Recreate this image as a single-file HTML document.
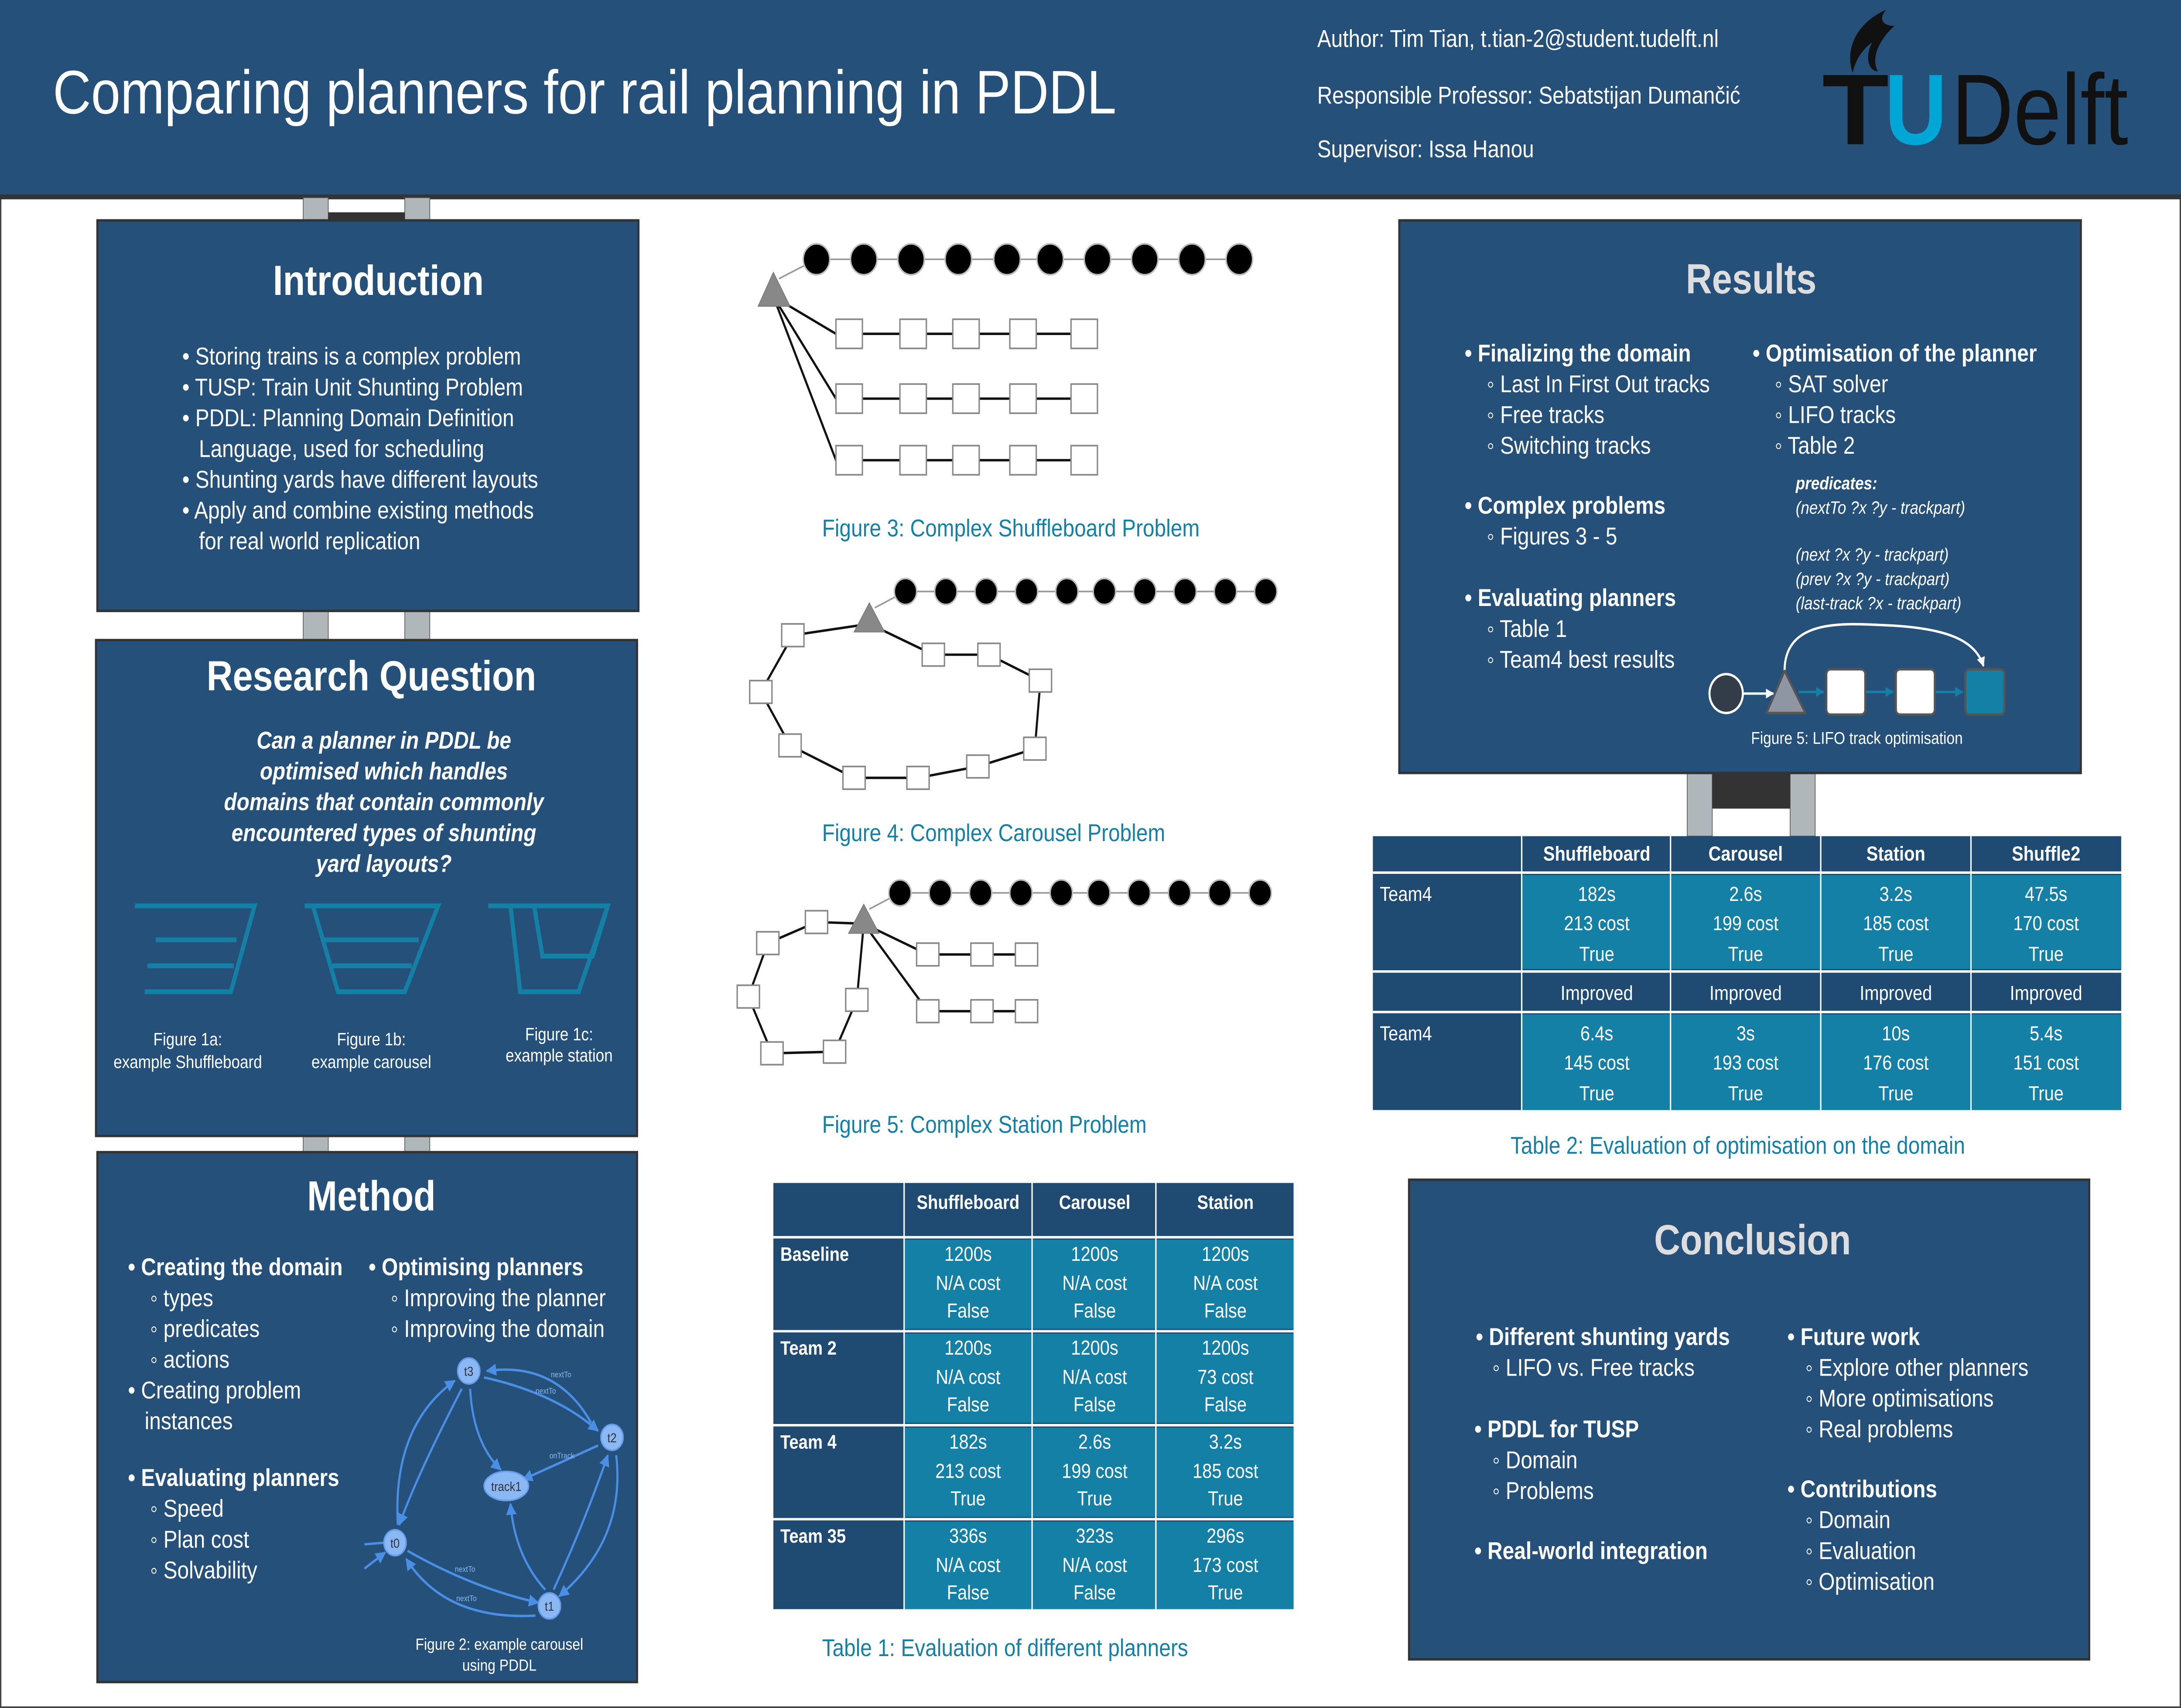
<!DOCTYPE html>
<html><head><meta charset="utf-8"><style>
html,body{margin:0;padding:0;background:#fff;width:100%;height:100%;overflow:hidden;}
svg{display:block;position:fixed;left:0;top:0;width:100vw;height:100vh;}
text{font-family:"Liberation Sans",sans-serif;}
</style></head><body>
<svg viewBox="0 0 1568 1054" preserveAspectRatio="none" xmlns="http://www.w3.org/2000/svg">
<defs>
<marker id="ab" viewBox="0 0 10 10" refX="9" refY="5" markerWidth="5" markerHeight="5" orient="auto"><path d="M0,0L10,5L0,10z" fill="#4a8fe6"/></marker>
<marker id="aw" viewBox="0 0 10 10" refX="9" refY="5" markerWidth="4" markerHeight="5" orient="auto"><path d="M0,0L10,5L0,10z" fill="#fff"/></marker>
<marker id="at" viewBox="0 0 10 10" refX="9" refY="5" markerWidth="4" markerHeight="4" orient="auto"><path d="M0,0L10,5L0,10z" fill="#1580a5"/></marker>
</defs>
<rect x="0.5" y="0.5" width="1567" height="1053" fill="#fff" stroke="#444" stroke-width="1"/>
<!-- header -->
<rect x="0" y="0" width="1568" height="122" fill="#245079"/>
<rect x="0" y="120" width="1568" height="3" fill="#333"/>
<text x="38" y="70" font-size="38" fill="#fff">Comparing planners for rail planning in PDDL</text>
<text x="947" y="29" font-size="15" fill="#fff">Author: Tim Tian, t.tian-2@student.tudelft.nl</text>
<text x="947" y="64" font-size="15" fill="#fff">Responsible Professor: Sebatstijan Dumančić</text>
<text x="947" y="97" font-size="15" fill="#fff">Supervisor: Issa Hanou</text>
<path d="M1356,6 C1335,14 1326,30 1332,45 C1334,36 1340,30 1346,26 C1340,36 1344,44 1350,44 C1344,34 1354,22 1362,16 C1354,16 1350,12 1356,6z" fill="#111"/>
<text x="1310" y="89" font-size="62" font-weight="bold" fill="#111" textLength="48" lengthAdjust="spacingAndGlyphs">T</text>
<text x="1355" y="89" font-size="62" font-weight="bold" fill="#00a6d6">U</text>
<text x="1403" y="89" font-size="62" fill="#111" textLength="127" lengthAdjust="spacingAndGlyphs">Delft</text>

<!-- connectors -->
<g fill="#b0b7bb" stroke="#555" stroke-width="0.5">
<rect x="218" y="122" width="18" height="14"/><rect x="291" y="122" width="18" height="14"/>
<rect x="218" y="377" width="18" height="18"/><rect x="291" y="377" width="18" height="18"/>
<rect x="218" y="701" width="18" height="10"/><rect x="291" y="701" width="18" height="10"/>
<rect x="1213" y="477" width="18" height="39"/><rect x="1287" y="477" width="18" height="39"/>
</g>
<rect x="236" y="131" width="55" height="5" fill="#333"/>
<rect x="1231" y="477" width="56" height="22" fill="#333"/>

<!-- Introduction -->
<rect x="70" y="136" width="389" height="241" fill="#245079" stroke="#333" stroke-width="1.5"/>
<text x="272" y="182" font-size="26" font-weight="bold" fill="#fff" text-anchor="middle">Introduction</text>
<g font-size="15" fill="#fff">
<text x="131" y="225">• Storing trains is a complex problem</text>
<text x="131" y="244">• TUSP: Train Unit Shunting Problem</text>
<text x="131" y="263">• PDDL: Planning Domain Definition</text>
<text x="143" y="282">Language, used for scheduling</text>
<text x="131" y="301">• Shunting yards have different layouts</text>
<text x="131" y="320">• Apply and combine existing methods</text>
<text x="143" y="339">for real world replication</text>
</g>

<!-- Research question -->
<rect x="69" y="395" width="389" height="306" fill="#245079" stroke="#333" stroke-width="1.5"/>
<text x="267" y="426" font-size="26" font-weight="bold" fill="#fff" text-anchor="middle">Research Question</text>
<g font-size="15" font-weight="bold" font-style="italic" fill="#fff" text-anchor="middle">
<text x="276" y="462">Can a planner in PDDL be</text>
<text x="276" y="481">optimised which handles</text>
<text x="276" y="500">domains that contain commonly</text>
<text x="276" y="519">encountered types of shunting</text>
<text x="276" y="538">yard layouts?</text>
</g>
<g stroke="#1580a5" stroke-width="3" fill="none">
<path d="M97,559H183L166,612H104M112,580H170M106,596H168"/>
<path d="M219,559H315L291,612H243L225,559M233,580H301M239,596H296"/>
<path d="M351,559H437L416,612H374L367,559M437,559L426,590H390L384,559"/>
</g>
<g font-size="11" fill="#fff" text-anchor="middle">
<text x="135" y="645">Figure 1a:</text><text x="135" y="659">example Shuffleboard</text>
<text x="267" y="645">Figure 1b:</text><text x="267" y="659">example carousel</text>
<text x="402" y="642">Figure 1c:</text><text x="402" y="655">example station</text>
</g>

<!-- Method -->
<rect x="70" y="711" width="388" height="327" fill="#245079" stroke="#333" stroke-width="1.5"/>
<text x="267" y="747" font-size="26" font-weight="bold" fill="#fff" text-anchor="middle">Method</text>
<g font-size="15" fill="#fff">
<text x="92" y="787" font-weight="bold">• Creating the domain</text>
<text x="108" y="806">◦ types</text>
<text x="108" y="825">◦ predicates</text>
<text x="108" y="844">◦ actions</text>
<text x="92" y="863">• Creating problem</text>
<text x="104" y="882">instances</text>
<text x="92" y="917" font-weight="bold">• Evaluating planners</text>
<text x="108" y="936">◦ Speed</text>
<text x="108" y="955">◦ Plan cost</text>
<text x="108" y="974">◦ Solvability</text>
<text x="265" y="787" font-weight="bold">• Optimising planners</text>
<text x="281" y="806">◦ Improving the planner</text>
<text x="281" y="825">◦ Improving the domain</text>
</g>
<g stroke="#4a8fe6" stroke-width="1.5" fill="none" marker-end="url(#ab)">
<path d="M425,878 Q400,840 350,846"/>
<path d="M348,850 Q400,860 430,883"/>
<path d="M338,857 Q340,890 360,907"/>
<path d="M430,892 L376,913"/>
<path d="M286,941 Q282,880 327,852"/>
<path d="M332,857 Q300,910 287,941"/>
<path d="M293,957 Q340,980 387,989"/>
<path d="M385,997 Q320,1000 292,962"/>
<path d="M392,981 Q370,960 367,928"/>
<path d="M398,981 Q420,940 437,898"/>
<path d="M443,898 Q450,950 402,985"/>
<path d="M262,968 L277,958"/>
</g>
<path d="M262,953 L276,952" stroke="#4a8fe6" stroke-width="1.5"/>
<g fill="#8ab8f5" stroke="#6a9be8" stroke-width="1">
<circle cx="337" cy="846" r="8"/><circle cx="440" cy="887" r="8"/><circle cx="284" cy="952" r="8"/><circle cx="395" cy="991" r="8"/>
<ellipse cx="364" cy="917" rx="16" ry="9"/>
</g>
<g font-size="8" fill="#333" text-anchor="middle">
<text x="337" y="849">t3</text><text x="440" y="890">t2</text><text x="284" y="955">t0</text><text x="395" y="994">t1</text><text x="364" y="920">track1</text>
</g>
<g font-size="5" fill="#8ab8f5">
<text x="385" y="860">nextTo</text><text x="396" y="850">nextTo</text><text x="327" y="970">nextTo</text><text x="328" y="988">nextTo</text><text x="395" y="900">onTrack</text>
</g>
<g font-size="10" fill="#fff" text-anchor="middle">
<text x="359" y="1018">Figure 2: example carousel</text><text x="359" y="1031">using PDDL</text>
</g>

<!-- Figures 3-5 -->
<g stroke="#999" stroke-width="1" fill="none">
<path d="M560,172 L587,160 H891"/>
<path d="M629,375 L651,365 H910"/>
<path d="M625,561 L647,551 H906"/>
</g>
<g fill="#000" stroke="#bbb" stroke-width="1">
<circle cx="587" cy="160" r="9.5"/><circle cx="621" cy="160" r="9.5"/><circle cx="655" cy="160" r="9.5"/><circle cx="689" cy="160" r="9.5"/><circle cx="724" cy="160" r="9.5"/><circle cx="755" cy="160" r="9.5"/><circle cx="789" cy="160" r="9.5"/><circle cx="823" cy="160" r="9.5"/><circle cx="857" cy="160" r="9.5"/><circle cx="891" cy="160" r="9.5"/>
<circle cx="651" cy="365" r="8"/><circle cx="680" cy="365" r="8"/><circle cx="709" cy="365" r="8"/><circle cx="738" cy="365" r="8"/><circle cx="767" cy="365" r="8"/><circle cx="794" cy="365" r="8"/><circle cx="823" cy="365" r="8"/><circle cx="852" cy="365" r="8"/><circle cx="881" cy="365" r="8"/><circle cx="910" cy="365" r="8"/>
<circle cx="647" cy="551" r="8"/><circle cx="676" cy="551" r="8"/><circle cx="705" cy="551" r="8"/><circle cx="734" cy="551" r="8"/><circle cx="763" cy="551" r="8"/><circle cx="790" cy="551" r="8"/><circle cx="819" cy="551" r="8"/><circle cx="848" cy="551" r="8"/><circle cx="877" cy="551" r="8"/><circle cx="906" cy="551" r="8"/>
</g>
<g stroke="#111" stroke-width="1.5" fill="none">
<path d="M556,183 L601,206 H779 M556,183 L601,246 H779 M556,183 L601,284 H779"/>
<path d="M625,385 L570,392 L547,427 L568,460 L614,480 L660,480 L703,473 L744,462 L748,420 L711,404 H671 L625,385"/>
<path d="M621,570 L587,569 L552,582 L538,615 L555,650 L600,649 L616,617 L621,570 M621,570 L667,589 H738 M621,570 L667,624 H738"/>
</g>
<g fill="#fff" stroke="#888" stroke-width="1">
<rect x="601" y="197" width="19" height="18"/><rect x="647" y="197" width="19" height="18"/><rect x="685" y="197" width="19" height="18"/><rect x="726" y="197" width="19" height="18"/><rect x="770" y="197" width="19" height="18"/>
<rect x="601" y="237" width="19" height="18"/><rect x="647" y="237" width="19" height="18"/><rect x="685" y="237" width="19" height="18"/><rect x="726" y="237" width="19" height="18"/><rect x="770" y="237" width="19" height="18"/>
<rect x="601" y="275" width="19" height="18"/><rect x="647" y="275" width="19" height="18"/><rect x="685" y="275" width="19" height="18"/><rect x="726" y="275" width="19" height="18"/><rect x="770" y="275" width="19" height="18"/>
<g transform="translate(-8,-7)">
<rect x="570" y="392" width="16" height="14"/><rect x="547" y="427" width="16" height="14"/><rect x="568" y="460" width="16" height="14"/><rect x="614" y="480" width="16" height="14"/><rect x="660" y="480" width="16" height="14"/><rect x="703" y="473" width="16" height="14"/><rect x="744" y="462" width="16" height="14"/><rect x="748" y="420" width="16" height="14"/><rect x="711" y="404" width="16" height="14"/><rect x="671" y="404" width="16" height="14"/>
<rect x="587" y="569" width="16" height="14"/><rect x="552" y="582" width="16" height="14"/><rect x="538" y="615" width="16" height="14"/><rect x="555" y="650" width="16" height="14"/><rect x="600" y="649" width="16" height="14"/><rect x="616" y="617" width="16" height="14"/>
<rect x="667" y="589" width="16" height="14"/><rect x="706" y="589" width="16" height="14"/><rect x="738" y="589" width="16" height="14"/>
<rect x="667" y="624" width="16" height="14"/><rect x="706" y="624" width="16" height="14"/><rect x="738" y="624" width="16" height="14"/>
</g>
</g>
<g fill="#888" stroke="#777" stroke-width="0.5">
<path d="M556,168 L545,189 L568,189z"/>
<path d="M625,372 L614,390 L636,390z"/>
<path d="M621,558 L610,576 L632,576z"/>
</g>
<g font-size="15" fill="#1580a5">
<text x="591" y="331">Figure 3: Complex Shuffleboard Problem</text>
<text x="591" y="519">Figure 4: Complex Carousel Problem</text>
<text x="591" y="699">Figure 5: Complex Station Problem</text>
<text x="591" y="1022">Table 1: Evaluation of different planners</text>
<text x="1086" y="712">Table 2: Evaluation of optimisation on the domain</text>
</g>

<!-- Table 1 -->
<rect x="556" y="730" width="374" height="263" fill="#1f4b73"/>
<g fill="#1580a5">
<rect x="650" y="765" width="280" height="55"/><rect x="650" y="823" width="280" height="55"/><rect x="650" y="881" width="280" height="55"/><rect x="650" y="939" width="280" height="54"/>
</g>
<g stroke="#fff" stroke-width="1.5">
<path d="M556,763.5H930M556,821.5H930M556,879.5H930M556,937.5H930"/>
<path d="M650,730V993M742,730V993M831,730V993" stroke-width="1"/>
</g>
<g font-size="12" fill="#fff" font-weight="bold">
<text x="696" y="746" text-anchor="middle">Shuffleboard</text><text x="787" y="746" text-anchor="middle">Carousel</text><text x="881" y="746" text-anchor="middle">Station</text>
<text x="561" y="778">Baseline</text><text x="561" y="836">Team 2</text><text x="561" y="894">Team 4</text><text x="561" y="952">Team 35</text>
</g>
<g font-size="12.5" fill="#fff" text-anchor="middle">
<text x="696" y="778">1200s</text><text x="696" y="796">N/A cost</text><text x="696" y="813">False</text>
<text x="787" y="778">1200s</text><text x="787" y="796">N/A cost</text><text x="787" y="813">False</text>
<text x="881" y="778">1200s</text><text x="881" y="796">N/A cost</text><text x="881" y="813">False</text>
<text x="696" y="836">1200s</text><text x="696" y="854">N/A cost</text><text x="696" y="871">False</text>
<text x="787" y="836">1200s</text><text x="787" y="854">N/A cost</text><text x="787" y="871">False</text>
<text x="881" y="836">1200s</text><text x="881" y="854">73 cost</text><text x="881" y="871">False</text>
<text x="696" y="894">182s</text><text x="696" y="912">213 cost</text><text x="696" y="929">True</text>
<text x="787" y="894">2.6s</text><text x="787" y="912">199 cost</text><text x="787" y="929">True</text>
<text x="881" y="894">3.2s</text><text x="881" y="912">185 cost</text><text x="881" y="929">True</text>
<text x="696" y="952">336s</text><text x="696" y="970">N/A cost</text><text x="696" y="987">False</text>
<text x="787" y="952">323s</text><text x="787" y="970">N/A cost</text><text x="787" y="987">False</text>
<text x="881" y="952">296s</text><text x="881" y="970">173 cost</text><text x="881" y="987">True</text>
</g>

<!-- Results -->
<rect x="1006" y="136" width="490" height="341" fill="#245079" stroke="#333" stroke-width="1.5"/>
<text x="1259" y="181" font-size="26" font-weight="bold" fill="#ddd" text-anchor="middle">Results</text>
<g font-size="15" fill="#fff">
<text x="1053" y="223" font-weight="bold">• Finalizing the domain</text>
<text x="1069" y="242">◦ Last In First Out tracks</text>
<text x="1069" y="261">◦ Free tracks</text>
<text x="1069" y="280">◦ Switching tracks</text>
<text x="1053" y="317" font-weight="bold">• Complex problems</text>
<text x="1069" y="336">◦ Figures 3 - 5</text>
<text x="1053" y="374" font-weight="bold">• Evaluating planners</text>
<text x="1069" y="393">◦ Table 1</text>
<text x="1069" y="412">◦ Team4 best results</text>
<text x="1260" y="223" font-weight="bold">• Optimisation of the planner</text>
<text x="1276" y="242">◦ SAT solver</text>
<text x="1276" y="261">◦ LIFO tracks</text>
<text x="1276" y="280">◦ Table 2</text>
</g>
<g font-size="11" fill="#fff" font-style="italic">
<text x="1291" y="302" font-weight="bold">predicates:</text>
<text x="1291" y="317">(nextTo ?x ?y - trackpart)</text>
<text x="1291" y="346">(next ?x ?y - trackpart)</text>
<text x="1291" y="361">(prev ?x ?y - trackpart)</text>
<text x="1291" y="376">(last-track ?x - trackpart)</text>
</g>
<path d="M1283,414 C1283,380 1330,385 1360,386 C1400,388 1420,395 1426,411" stroke="#fff" stroke-width="1.5" fill="none" marker-end="url(#aw)"/>
<path d="M1253,428 H1275" stroke="#fff" stroke-width="1.5" marker-end="url(#aw)"/>
<g stroke="#1580a5" stroke-width="1.5" marker-end="url(#at)"><path d="M1293,427 H1311"/><path d="M1341,427 H1361"/><path d="M1391,427 H1411"/></g>
<ellipse cx="1241" cy="428" rx="12" ry="12" fill="#333d4a" stroke="#fff" stroke-width="1.5"/>
<path d="M1283,414 L1270,440 H1298z" fill="#8e96a3" stroke="#555" stroke-width="1.5" stroke-linejoin="round"/>
<rect x="1313" y="413" width="28" height="28" rx="3" fill="#fff" stroke="#555" stroke-width="1.5"/>
<rect x="1363" y="413" width="28" height="28" rx="3" fill="#fff" stroke="#555" stroke-width="1.5"/>
<rect x="1413" y="413" width="28" height="28" rx="3" fill="#1580a5" stroke="#555" stroke-width="1.5"/>
<text x="1335" y="459" font-size="10.5" fill="#fff" text-anchor="middle">Figure 5: LIFO track optimisation</text>

<!-- Table 2 -->
<rect x="987" y="516" width="538" height="169" fill="#1f4b73"/>
<g fill="#1580a5"><rect x="1094" y="540" width="431" height="58"/><rect x="1094" y="626" width="431" height="59"/></g>
<g stroke="#fff" stroke-width="1.5">
<path d="M987,538.5H1525M987,599.5H1525M987,624.5H1525"/>
<path d="M1094,516V685M1201,516V685M1309,516V685M1417,516V685" stroke-width="1"/>
</g>
<g font-size="12.5" fill="#fff" text-anchor="middle">
<text x="1148" y="531" font-weight="bold">Shuffleboard</text><text x="1255" y="531" font-weight="bold">Carousel</text><text x="1363" y="531" font-weight="bold">Station</text><text x="1471" y="531" font-weight="bold">Shuffle2</text>
<text x="1148" y="556">182s</text><text x="1148" y="574">213 cost</text><text x="1148" y="593">True</text>
<text x="1255" y="556">2.6s</text><text x="1255" y="574">199 cost</text><text x="1255" y="593">True</text>
<text x="1363" y="556">3.2s</text><text x="1363" y="574">185 cost</text><text x="1363" y="593">True</text>
<text x="1471" y="556">47.5s</text><text x="1471" y="574">170 cost</text><text x="1471" y="593">True</text>
<text x="1148" y="617">Improved</text><text x="1255" y="617">Improved</text><text x="1363" y="617">Improved</text><text x="1471" y="617">Improved</text>
<text x="1148" y="642">6.4s</text><text x="1148" y="660">145 cost</text><text x="1148" y="679">True</text>
<text x="1255" y="642">3s</text><text x="1255" y="660">193 cost</text><text x="1255" y="679">True</text>
<text x="1363" y="642">10s</text><text x="1363" y="660">176 cost</text><text x="1363" y="679">True</text>
<text x="1471" y="642">5.4s</text><text x="1471" y="660">151 cost</text><text x="1471" y="679">True</text>
</g>
<g font-size="12.5" fill="#fff"><text x="992" y="556">Team4</text><text x="992" y="642">Team4</text></g>

<!-- Conclusion -->
<rect x="1013" y="728" width="489" height="296" fill="#245079" stroke="#333" stroke-width="1.5"/>
<text x="1260" y="774" font-size="26" font-weight="bold" fill="#ddd" text-anchor="middle">Conclusion</text>
<g font-size="15" fill="#fff">
<text x="1061" y="830" font-weight="bold">• Different shunting yards</text>
<text x="1073" y="849">◦ LIFO vs. Free tracks</text>
<text x="1060" y="887" font-weight="bold">• PDDL for TUSP</text>
<text x="1073" y="906">◦ Domain</text>
<text x="1073" y="925">◦ Problems</text>
<text x="1060" y="962" font-weight="bold">• Real-world integration</text>
<text x="1285" y="830" font-weight="bold">• Future work</text>
<text x="1298" y="849">◦ Explore other planners</text>
<text x="1298" y="868">◦ More optimisations</text>
<text x="1298" y="887">◦ Real problems</text>
<text x="1285" y="924" font-weight="bold">• Contributions</text>
<text x="1298" y="943">◦ Domain</text>
<text x="1298" y="962">◦ Evaluation</text>
<text x="1298" y="981">◦ Optimisation</text>
</g>
</svg>
</body></html>
